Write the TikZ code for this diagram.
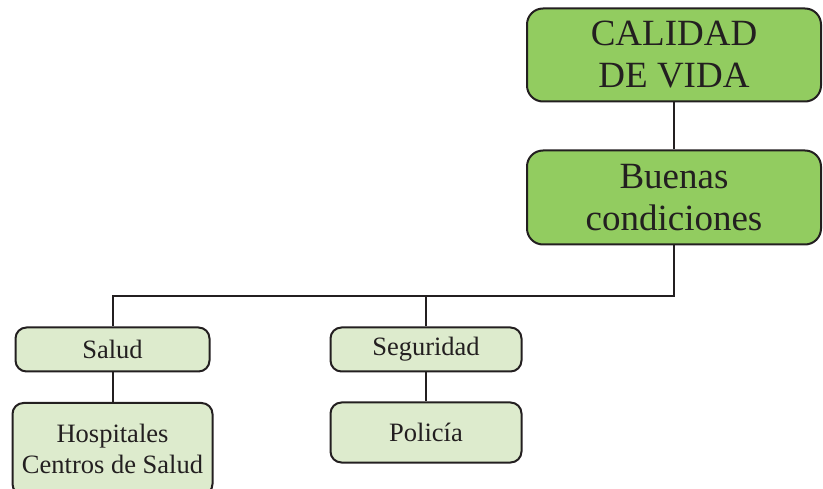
\documentclass[tikz,border=0pt]{standalone}
\usepackage{fontspec}
\setmainfont{Liberation Serif}
\definecolor{dkgreen}{RGB}{146,204,96}
\definecolor{ltgreen}{RGB}{221,235,205}
\definecolor{ink}{RGB}{35,31,32}
\begin{document}
\begin{tikzpicture}[x=1pt,y=1pt,
  bigbox/.style={draw=ink,line width=2pt,fill=dkgreen,rounded corners=16pt,
    minimum width=294pt,align=center,inner sep=0pt,text=ink,
    font=\fontsize{37}{42}\selectfont},
  smallbox/.style={draw=ink,line width=2pt,fill=ltgreen,rounded corners=11pt,
    align=center,inner sep=0pt,text=ink,font=\fontsize{26.5}{31}\selectfont},
  conn/.style={draw=ink,line width=2pt}]
\useasboundingbox (0,0) rectangle (823,-489);
\node[bigbox,minimum height=93pt] (cal) at (674,-55) {CALIDAD\\DE VIDA};
\node[bigbox,minimum height=94pt] (bue) at (674,-197.5) {Buenas\\condiciones};
\node[smallbox,minimum width=194pt,minimum height=44pt] (salud) at (112.5,-349.5) {Salud};
\node[smallbox,minimum width=191pt,minimum height=44pt] (seg) at (426,-349.5) {Seguridad};
\node[smallbox,minimum width=200pt,minimum height=92pt] (hosp) at (112.5,-449) {Hospitales\\Centros de Salud};
\node[smallbox,minimum width=191pt,minimum height=60pt] (pol) at (426,-432.5) {Policía};
\coordinate (j) at (674,-296.5);
\draw[conn] (cal) -- (bue);
\draw[conn] (bue.south) -- (j) -| (salud.north);
\draw[conn] (seg.north) -- (seg.north |- j);
\draw[conn] (salud) -- (hosp);
\draw[conn] (seg) -- (pol);
\end{tikzpicture}
\end{document}
